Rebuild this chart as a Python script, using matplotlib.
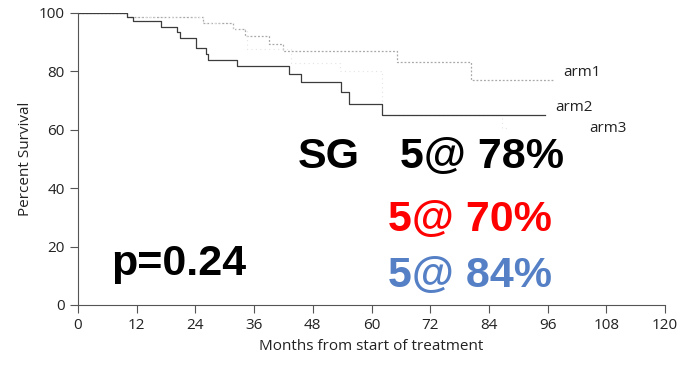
import matplotlib as mpl
mpl.use('Agg')
import matplotlib.pyplot as plt
import numpy as np

# Kaplan-Meier step curves, months vs percent surviving
arm1_t = [0, 10, 25.5, 31.7, 34.2, 39, 41.9, 65.2, 80.3, 97.2]
arm1_s = [100, 98.6, 96.6, 94.4, 92.2, 89.5, 86.9, 83.3, 77.1, 77.1]
arm2_t = [0, 10, 11.2, 17, 20.3, 20.9, 24.1, 26.2, 26.5, 32.6, 43.1, 45.6, 53.8, 55.3, 62.2, 95.5]
arm2_s = [100, 98.7, 97.3, 95.3, 93.6, 91.5, 87.9, 85.9, 83.9, 81.8, 79.1, 76.5, 72.8, 69.0, 65.1, 65.1]
arm3_t = [0, 10, 25.5, 31.7, 34.5, 43.5, 53.5, 62.2, 86.7, 88]
arm3_s = [100, 98.6, 96.6, 94.4, 87.5, 83.0, 80.0, 65.1, 60.5, 60.5]

arm_labels = ['arm1', 'arm2', 'arm3']
group = 'SG'
pval = 'p=0.24'
rates = ['5@ 78%', '5@ 70%', '5@ 84%']
rate_colors = ['black', '#ff0000', '#5580c6']

AxFont = 'Open Sans'
AxSize = 11

fig = plt.figure(figsize=(6.77, 3.66), dpi=100)
ax = fig.add_axes([0.1152, 0.1667, 0.8671, 0.7978])

ax.step(arm1_t, arm1_s, where='post', color='#a8a8a8', lw=0.9, ls=(0, (1.5, 1.5)))
ax.step(arm3_t, arm3_s, where='post', color='#e4e4e4', lw=0.8, ls=(0, (1, 3)))
ax.step(arm2_t, arm2_s, where='post', color='#3c3c3c', lw=0.9)

ax.text(99.1, 79.5, arm_labels[0], fontsize=AxSize, family=AxFont, va='center', color='#222222')
ax.text(97.6, 67.5, arm_labels[1], fontsize=AxSize, family=AxFont, va='center', color='#222222')
ax.text(104.5, 60.6, arm_labels[2], fontsize=AxSize, family=AxFont, va='center', color='#222222')

big = dict(fontsize=31, fontweight='bold', family='Liberation Sans', va='baseline', ha='left')
ax.text(45.0, 47.0, group, color='black', **big)
ax.text(65.8, 47.0, rates[0], color=rate_colors[0], **big)
ax.text(63.4, 25.4, rates[1], color=rate_colors[1], **big)
ax.text(63.4, 6.2, rates[2], color=rate_colors[2], **big)
ax.text(6.7, 10.3, pval, color='black', **big)

ax.set_xlim(0, 120)
ax.set_ylim(0, 100)
ax.set_xticks(np.arange(0, 121, 12))
ax.set_yticks(np.arange(0, 101, 20))
for s in ['top', 'right']:
    ax.spines[s].set_visible(False)
for s in ['left', 'bottom']:
    ax.spines[s].set_color('#555555')
    ax.spines[s].set_linewidth(0.8)
ax.tick_params(direction='out', length=6, width=0.8, color='#555555', labelsize=AxSize)
for lab in ax.get_xticklabels() + ax.get_yticklabels():
    lab.set_family(AxFont)
    lab.set_color('#222222')
ax.set_xlabel('Months from start of treatment', fontsize=AxSize, family=AxFont, color='#222222')
ax.set_ylabel('Percent Survival', fontsize=AxSize, family=AxFont, color='#222222')

plt.savefig('out.png', dpi=100)
